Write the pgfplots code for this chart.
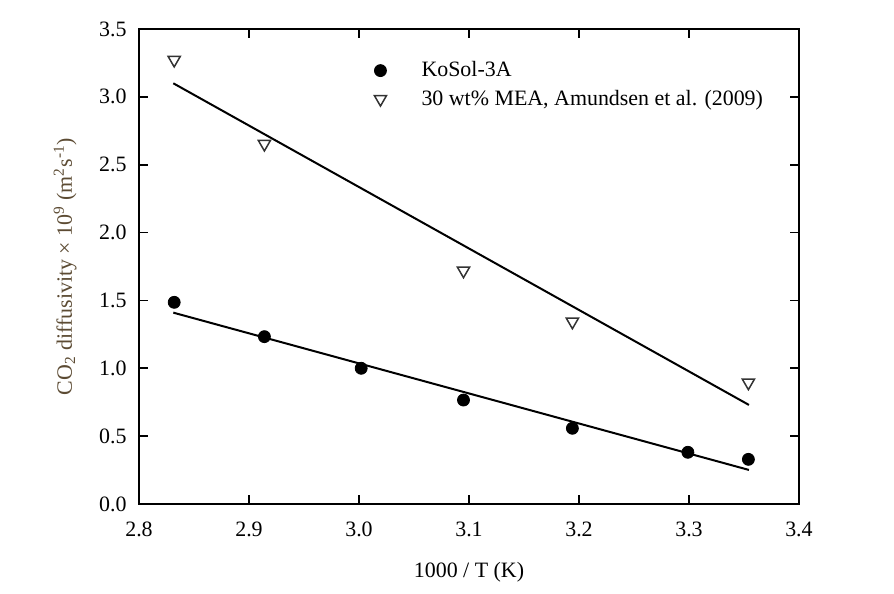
\documentclass[border=0pt]{standalone}
\usepackage{fontspec}
\setmainfont{Liberation Serif}
\usepackage{pgfplots}
\pgfplotsset{compat=1.18}
\definecolor{ylab}{HTML}{5C4B33}
\definecolor{triedge}{HTML}{333333}
\begin{document}
\fontsize{11}{13}\selectfont
\begin{tikzpicture}
\useasboundingbox (-69.5bp,-45bp) rectangle (377.5bp,252bp);
\begin{axis}[
  scale only axis,
  width=330bp, height=237.5bp,
  at={(0,0)}, anchor=south west,
  xmin=2.8, xmax=3.4, ymin=0, ymax=3.5,
  xtick={2.8,2.9,3.0,3.1,3.2,3.3,3.4},
  ytick={0,0.5,1,1.5,2,2.5,3,3.5},
  tick align=inside,
  major tick length=4.5bp,
  tick pos=both,
  xticklabel pos=bottom, yticklabel pos=left,
  axis line style={line width=1bp},
  every tick/.style={black, line width=0.9bp},
  /pgf/number format/assume math mode=true,
  xticklabel style={/pgf/number format/.cd, fixed, fixed zerofill, precision=1, /tikz/.cd, font=\fontsize{11}{13}\selectfont, inner sep=0pt, yshift=-9bp},
  yticklabel style={/pgf/number format/.cd, fixed, fixed zerofill, precision=1, /tikz/.cd, font=\fontsize{11}{13}\selectfont, inner sep=0pt, xshift=-6bp},
  xlabel={1000 / T (K)},
  xlabel style={at={(axis description cs:0.5,-0.143)}, anchor=center, font=\fontsize{11}{13}\selectfont},
  ylabel={CO\textsubscript{2} diffusivity × 10\textsuperscript{9} (m\textsuperscript{2}s\textsuperscript{-1})},
  ylabel style={at={(axis description cs:-0.112,0.5)}, anchor=center, rotate=0, font=\fontsize{11}{13}\selectfont, text=ylab},
  legend style={at={(axis description cs:0.347,0.9495)}, anchor=north west, draw=none, fill=none,
    font=\fontsize{11}{13}\selectfont, row sep=1bp,
    /tikz/every odd column/.append style={column sep=15.5bp}},
  legend cell align=left,
  clip=false,
]
\addplot[only marks, mark=*, mark size=3bp, black] coordinates {
  (2.832,1.486) (2.914,1.233) (3.002,1.000) (3.095,0.766) (3.194,0.558) (3.299,0.381) (3.354,0.329)
};
\addlegendentry{KoSol-3A}
\addplot[only marks, mark=triangle*, mark size=3.5bp, mark options={rotate=180, fill=white, draw=triedge, line width=0.75bp}] coordinates {
  (2.832,3.272) (2.914,2.653) (3.095,1.719) (3.194,1.343) (3.354,0.894)
};
\addlegendentry{30 wt\% MEA, Amundsen et al. (2009)}
\addplot[black, line width=1bp, forget plot] coordinates {(2.8312,3.100) (3.3545,0.730)};
\addplot[black, line width=1bp, forget plot] coordinates {(2.8312,1.410) (3.3545,0.251)};
\end{axis}
\end{tikzpicture}
\end{document}
